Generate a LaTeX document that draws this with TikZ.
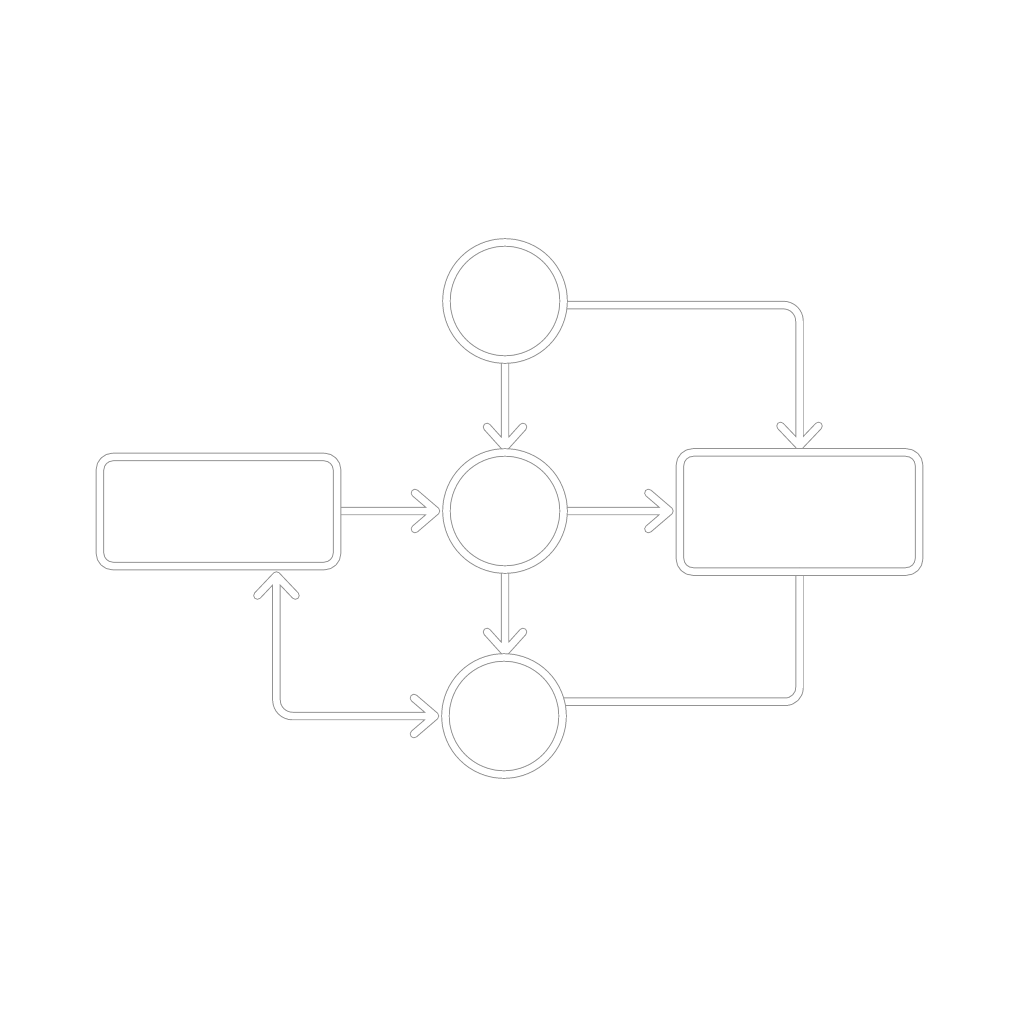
\documentclass[tikz,border=0pt]{standalone}
\usetikzlibrary{calc}
\pgfdeclarelayer{bg}
\pgfsetlayers{bg,main}
\begin{document}
\begin{tikzpicture}[x=0.01cm,y=-0.01cm,
  dl/.style={draw=black!42, line width=0.28pt, double=white, double distance=1.85pt, line join=round, line cap=round},
  ring/.style={dl, circle, minimum size=1.17cm, inner sep=0pt},
  boxnode/.style={dl, rectangle, rounded corners=0.13cm, inner sep=0pt}]
\useasboundingbox (0,0) rectangle (1024,1024);
% nodes
\node[ring] (t) at (505,301) {};
\node[ring] (m) at (505,511) {};
\node[ring] (b) at (504,716) {};
\node[boxnode, minimum width=2.37cm, minimum height=1.09cm] (L) at (218.5,511.5) {};
\node[boxnode, minimum width=2.39cm, minimum height=1.19cm] (R) at (799.5,512) {};
\begin{pgfonlayer}{bg}
\fill[white] (0,0) rectangle (1024,1024);
% top circle -> middle circle
\coordinate (tA) at ($(t.south |- m.north)+(0,-5)$);
\draw[dl] (t.south) -- (tA) ($(tA)+(-18,-20)$) -- (tA) -- ($(tA)+(18,-20)$);
% middle circle -> bottom circle
\coordinate (tB) at ($(m.south |- b.north)+(0,-5)$);
\draw[dl] (m.south) -- (tB) ($(tB)+(-18,-20)$) -- (tB) -- ($(tB)+(18,-20)$);
% left box -> middle circle
\coordinate (tC) at ($(L.east |- m.west)+(0,0)$);
\coordinate (tC) at ($(m.west)+(-10,0)$);
\draw[dl] (L.east |- m.west) -- (tC) ($(tC)+(-21,-18)$) -- (tC) -- ($(tC)+(-21,18)$);
% middle circle -> right box
\coordinate (tD) at ($(m.east -| R.west)+(-10,0)$);
\draw[dl] (m.east) -- (tD) ($(tD)+(-21,-18)$) -- (tD) -- ($(tD)+(-21,18)$);
% top circle -> right box
\coordinate (tE) at ($(R.north)+(0,-6)$);
\draw[dl] (t.-4) [rounded corners=0.16cm] -| (tE) [sharp corners] ($(tE)+(-19,-20)$) -- (tE) -- ($(tE)+(19,-20)$);
% right box -> bottom circle
\draw[dl, rounded corners=0.14cm] (R.south) |- (b.14);
% left box <-> bottom circle
\coordinate (tG1) at ($(L.south west)+(177,9)$);
\coordinate (tG2) at ($(b.west)+(-10,0)$);
\draw[dl] (tG1) [rounded corners=0.16cm] |- (tG2) [sharp corners]
  ($(tG1)+(-19,20)$) -- (tG1) -- ($(tG1)+(19,20)$)
  ($(tG2)+(-21,-18)$) -- (tG2) -- ($(tG2)+(-21,18)$);
\end{pgfonlayer}
\end{tikzpicture}
\end{document}
